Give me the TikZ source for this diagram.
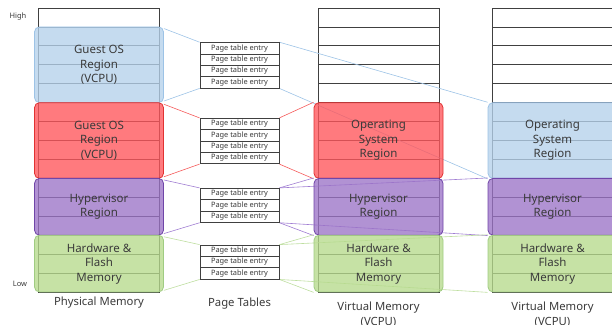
\documentclass[tikz,border=0pt]{standalone}
\usepackage{fontspec}
\setmainfont{Noto Sans}
\definecolor{txt}{HTML}{3A3A3A}
\definecolor{gridc}{HTML}{404040}
\definecolor{blueF}{RGB}{181,209,235}
\definecolor{blueD}{HTML}{9DC3E6}
\definecolor{redF}{RGB}{255,85,90}
\definecolor{redD}{RGB}{225,50,50}
\definecolor{purF}{RGB}{155,115,199}
\definecolor{purD}{RGB}{112,70,168}
\definecolor{grnF}{RGB}{182,218,140}
\definecolor{grnD}{RGB}{160,204,130}
\definecolor{blueL}{HTML}{9DC3E6}
\definecolor{redL}{RGB}{245,90,90}
\definecolor{purL}{RGB}{160,125,210}
\definecolor{grnL}{RGB}{190,222,160}
\pgfdeclarelayer{background}
\pgfsetlayers{background,main}
\begin{document}
\begin{tikzpicture}[x=1pt,y=-1pt,
  region/.style={rectangle, rounded corners=5pt, minimum width=129pt,
    inner sep=0pt, fill opacity=0.78, text opacity=1, line width=0.8pt,
    align=center, text=txt, font=\fontsize{11.5}{14.5}\selectfont},
  rblue/.style={region, fill=blueF, draw=blueD},
  rred/.style={region, fill=redF, draw=redD},
  rpur/.style={region, fill=purF, draw=purD},
  rgrn/.style={region, fill=grnF, draw=grnD},
  cell/.style={draw=gridc, line width=0.8pt},
  pte/.style={draw=gridc, line width=0.8pt, minimum width=79pt,
    minimum height=11.35pt, inner sep=0pt, text=txt,
    font=\fontsize{7.4}{8}\selectfont},
  colcaption/.style={text=txt, align=center, font=\fontsize{11.3}{15}\selectfont},
  sidelabel/.style={text=txt, font=\fontsize{7.5}{9}\selectfont},
  link/.style={line width=0.6pt}
]
\clip (0,0) rectangle (612,324);

% row height 18.93, columns start at y = 8
% physical memory regions
\node[rblue] (pBlue) at (99,64.79)  [minimum height=75.72pt] {Guest OS\\Region\\(VCPU)};
\node[rred]  (pRed)  at (99,140.51) [minimum height=75.72pt] {Guest OS\\Region\\(VCPU)};
\node[rpur]  (pPur)  at (99,206.77) [minimum height=56.79pt] {Hypervisor\\Region};
\node[rgrn]  (pGrn)  at (99,263.56) [minimum height=56.79pt] {Hardware \&\\Flash\\Memory};

% virtual memory 1
\node[rred] (v1Red) at (378.5,140.51) [minimum height=75.72pt] {Operating\\System\\Region};
\node[rpur] (v1Pur) at (378.5,206.77) [minimum height=56.79pt] {Hypervisor\\Region};
\node[rgrn] (v1Grn) at (378.5,263.56) [minimum height=56.79pt] {Hardware \&\\Flash\\Memory};

% virtual memory 2
\node[rblue] (v2Blue) at (552.5,140.51) [minimum height=75.72pt] {Operating\\System\\Region};
\node[rpur]  (v2Pur)  at (552.5,206.77) [minimum height=56.79pt] {Hypervisor\\Region};
\node[rgrn]  (v2Grn)  at (552.5,263.56) [minimum height=56.79pt] {Hardware \&\\Flash\\Memory};

% page tables
\foreach \g/\t/\n in {1/42.6/4, 2/118.3/4, 3/188.3/3, 4/245/3}
  \foreach \k in {1,...,\n}
    \node[pte] (pt\g-\k) at (239.5,\t+11.35*\k-5.675) {Page table entry};

% labels
\node[sidelabel] (high) at (18,17) {High};
\node[sidelabel] (low) at (20,284) {Low};
\node[colcaption] (physcap) at (99,303) {Physical Memory};
\node[colcaption] (ptcap) at (239.5,304) {Page Tables};
\node[colcaption] (v1cap) at (378.5,314.5) {Virtual Memory\\(VCPU)};
\node[colcaption] (v2cap) at (552.5,314.5) {Virtual Memory\\(VCPU)};

\begin{pgfonlayer}{background}
  % memory columns: 15 rows each
  \foreach \cx in {38,318,492}
    \foreach \i in {0,...,14}
      \draw[cell] (\cx,8+\i*18.93) rectangle (\cx+121.5,8+\i*18.93+18.93);

  % guest OS (blue) mapping
  \draw[link, blueL] ([yshift=-2pt]pBlue.north east) -- (pt1-1.north west);
  \draw[link, blueL] ([yshift=2pt]pBlue.south east) -- (pt1-4.south west);
  \draw[link, blueL] (pt1-1.north east) -- (v2Blue.north west);
  \draw[link, blueL] (pt1-4.south east) -- (v2Blue.south west);

  % guest OS (red) mapping
  \draw[link, redL] ([yshift=-2pt]pRed.north east) -- (pt2-1.north west);
  \draw[link, redL] ([yshift=2pt]pRed.south east) -- (pt2-4.south west);
  \draw[link, redL] (pt2-1.north east) -- (v1Red.north west);
  \draw[link, redL] (pt2-4.south east) -- (v1Red.south west);

  % hypervisor mapping
  \draw[link, purL] ([yshift=-2pt]pPur.north east) -- (pt3-1.north west);
  \draw[link, purL] ([yshift=2pt]pPur.south east) -- (pt3-3.south west);
  \draw[link, purL] (pt3-1.north east) -- (v1Pur.north west);
  \draw[link, purL] (pt3-1.north east) -- (v2Pur.north west);
  \draw[link, purL] (pt3-3.south east) -- (v1Pur.south west);
  \draw[link, purL] (pt3-3.south east) -- (v2Pur.south west);

  % hardware & flash mapping
  \draw[link, grnL] ([yshift=-2pt]pGrn.north east) -- (pt4-1.north west);
  \draw[link, grnL] ([yshift=2pt]pGrn.south east) -- (pt4-3.south west);
  \draw[link, grnL] (pt4-1.north east) -- (v1Grn.north west);
  \draw[link, grnL] (pt4-1.north east) -- (v2Grn.north west);
  \draw[link, grnL] (pt4-3.south east) -- (v1Grn.south west);
  \draw[link, grnL] (pt4-3.south east) -- (v2Grn.south west);
\end{pgfonlayer}
\end{tikzpicture}
\end{document}
